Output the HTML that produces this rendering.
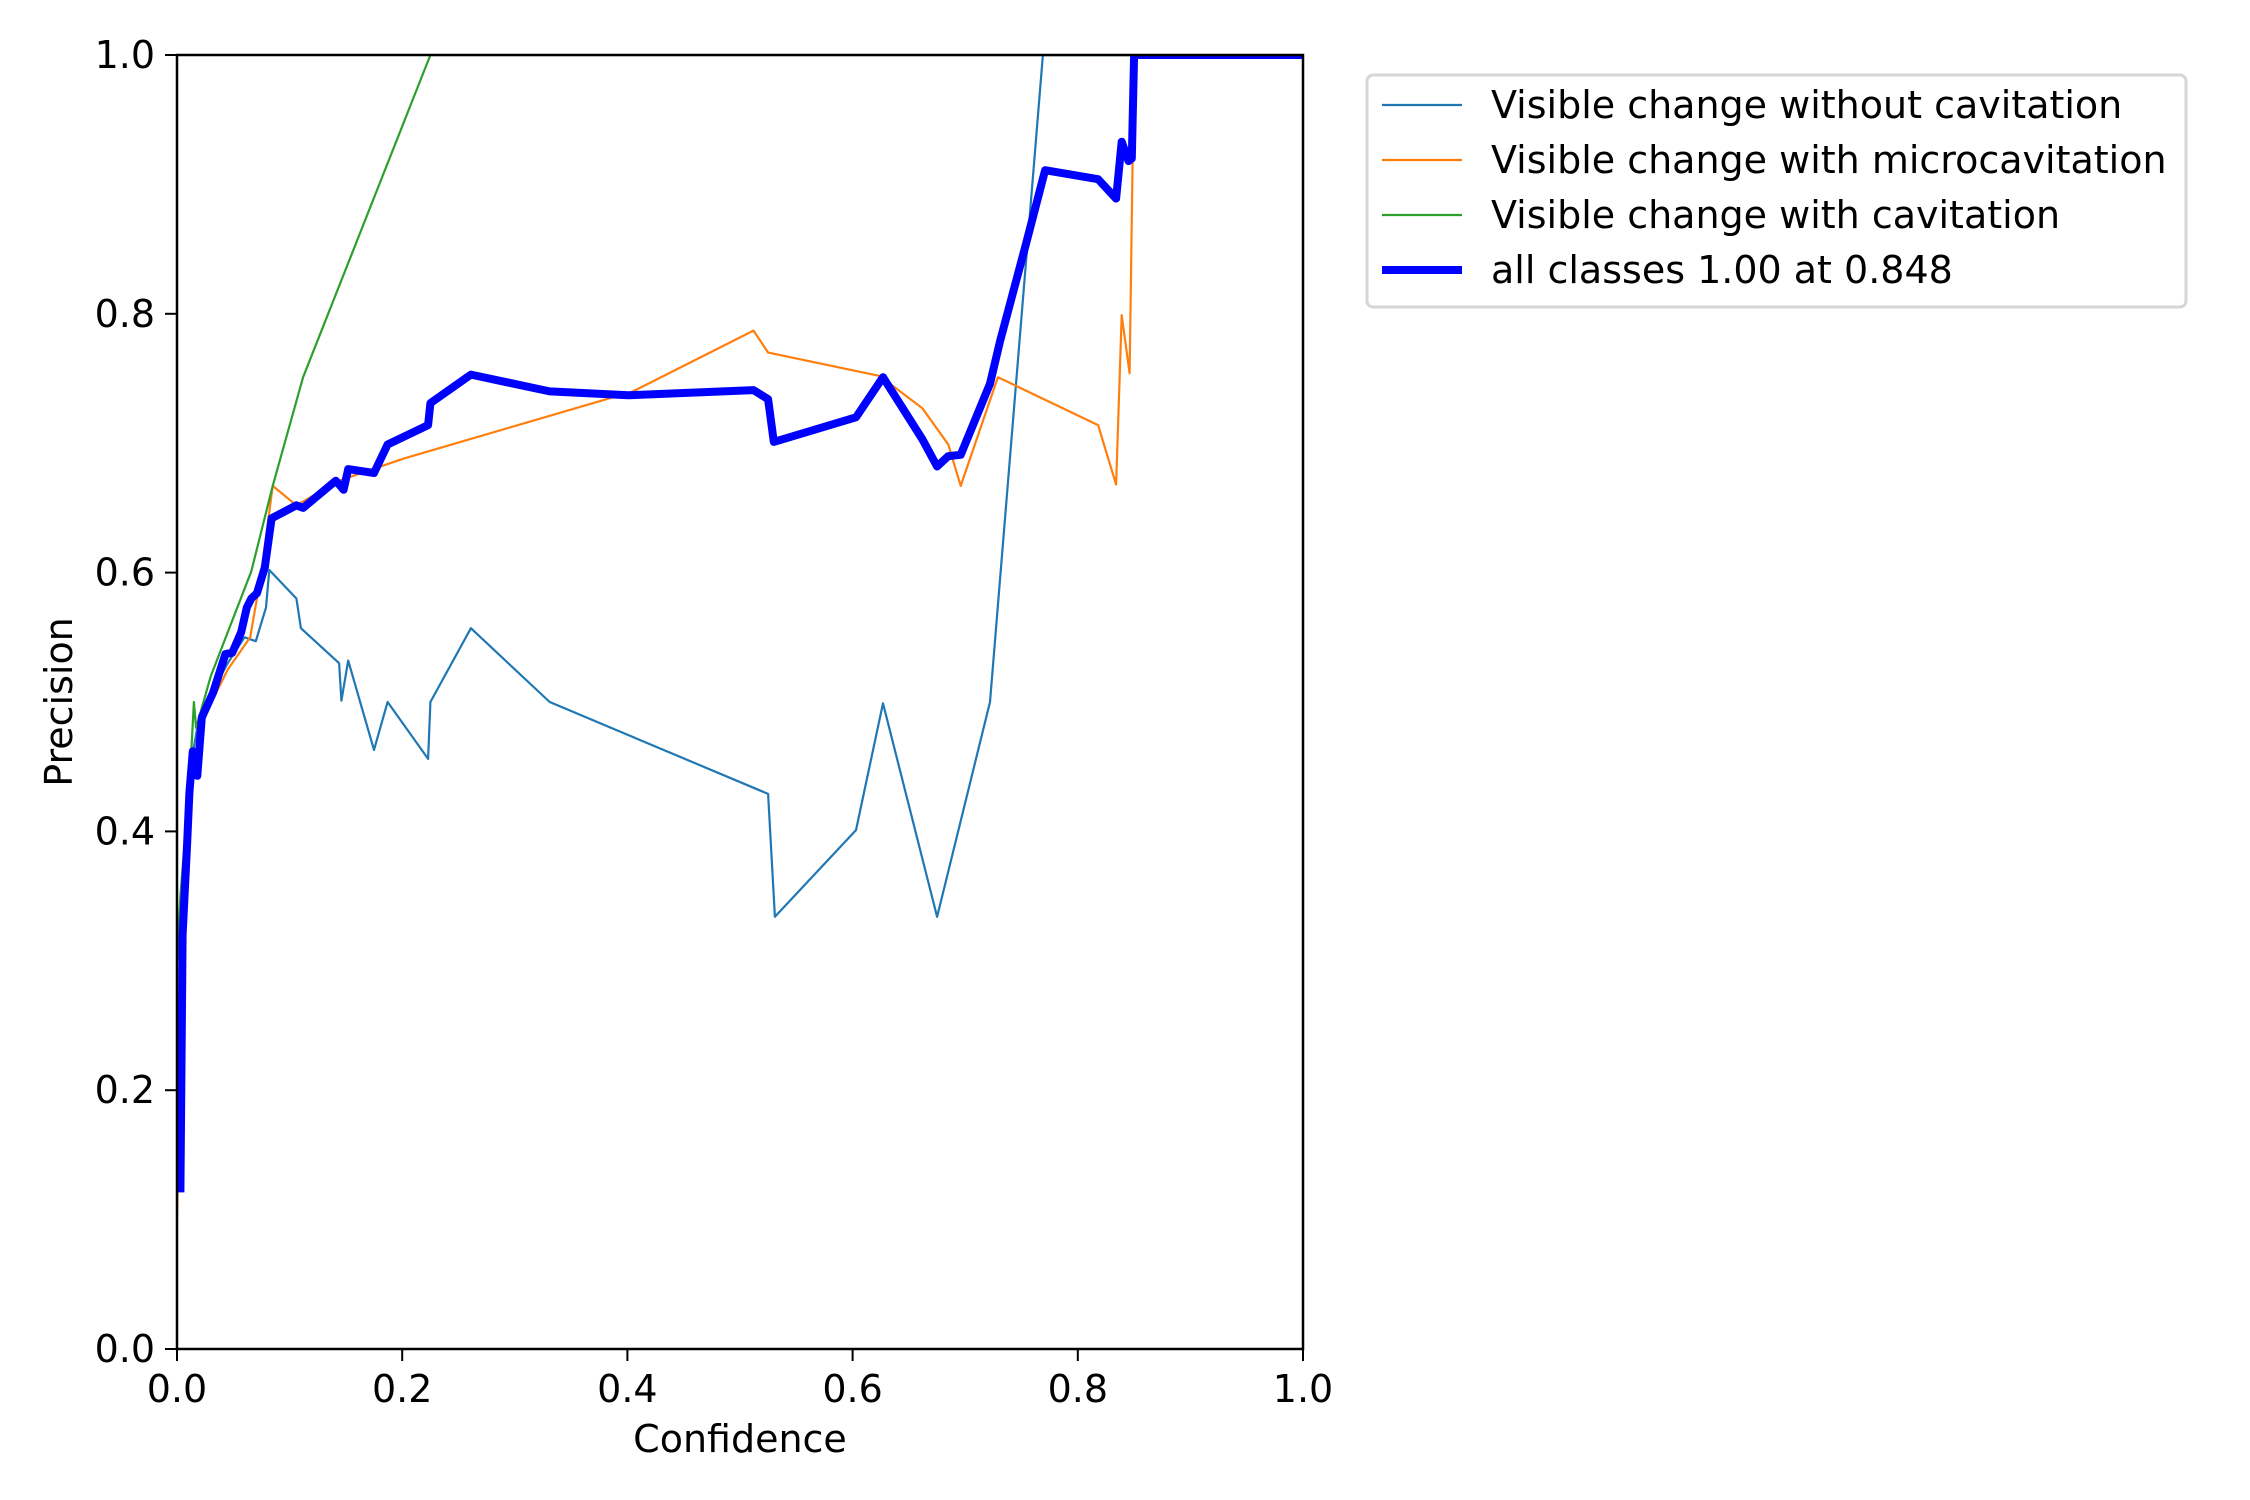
<!DOCTYPE html>
<html><head><meta charset="utf-8"><style>
html,body{margin:0;padding:0;background:#fff;}
svg{display:block;font-family:"DejaVu Sans","Liberation Sans",sans-serif;}
</style></head><body>
<svg id="chart" width="2250" height="1500" viewBox="0 0 2250 1500" xmlns="http://www.w3.org/2000/svg">
<rect width="2250" height="1500" fill="#fff"/>
<defs><clipPath id="clip"><rect x="177" y="55" width="1126" height="1294"/></clipPath></defs>
<g id="series" clip-path="url(#clip)"></g>
<rect x="177" y="55" width="1126" height="1294" fill="none" stroke="#000" stroke-width="2.5"/>
<g id="axes"></g>
<text x="740" y="1452" font-size="38" text-anchor="middle">Confidence</text>
<text x="72" y="702" font-size="38" text-anchor="middle" transform="rotate(-90 72 702)">Precision</text>
<g>
<rect x="1367" y="75" width="819" height="232" rx="6" fill="#fff" stroke="#d6d6d6" stroke-width="3"/>
<line x1="1382" y1="105" x2="1462" y2="105" stroke="#1f77b4" stroke-width="2.2"/>
<text x="1491" y="118" font-size="38">Visible change without cavitation</text>
<line x1="1382" y1="160" x2="1462" y2="160" stroke="#ff7f0e" stroke-width="2.2"/>
<text x="1491" y="173" font-size="38">Visible change with microcavitation</text>
<line x1="1382" y1="215" x2="1462" y2="215" stroke="#2ca02c" stroke-width="2.2"/>
<text x="1491" y="228" font-size="38">Visible change with cavitation</text>
<line x1="1382" y1="270" x2="1462" y2="270" stroke="#0000ff" stroke-width="8"/>
<text x="1491" y="283" font-size="38">all classes 1.00 at 0.848</text>
</g>
</svg>
<script>
const xTicks = [0.0, 0.2, 0.4, 0.6, 0.8, 1.0];
const yTicks = [0.0, 0.2, 0.4, 0.6, 0.8, 1.0];
const tickLabels = ["0.0","0.2","0.4","0.6","0.8","1.0"];
const noCavX = [0,0.003,0.012,0.02,0.045,0.06,0.07,0.079,0.082,0.106,0.11,0.144,0.146,0.152,0.175,0.187,0.223,0.225,0.261,0.331,0.525,0.531,0.603,0.627,0.675,0.722,0.769,1.0];
const noCavY = [0.3,0.33,0.45,0.49,0.53,0.55,0.547,0.573,0.602,0.58,0.557,0.53,0.501,0.532,0.463,0.5,0.456,0.5,0.557,0.5,0.429,0.334,0.401,0.499,0.334,0.5,1.0,1.0];
const microX = [0,0.005,0.015,0.025,0.045,0.065,0.075,0.085,0.106,0.144,0.201,0.405,0.512,0.525,0.624,0.662,0.685,0.696,0.729,0.818,0.834,0.839,0.846,0.85,1.0];
const microY = [0.1,0.35,0.45,0.49,0.525,0.55,0.6,0.667,0.652,0.671,0.688,0.74,0.787,0.77,0.752,0.727,0.699,0.667,0.751,0.714,0.668,0.799,0.754,1.0,1.0];
const cavX = [0,0.003,0.012,0.015,0.017,0.03,0.066,0.085,0.112,0.225,1.0];
const cavY = [0.3,0.35,0.45,0.5,0.48,0.52,0.601,0.667,0.751,1.0,1.0];
const allX = [0.003,0.005,0.009,0.011,0.014,0.018,0.022,0.032,0.043,0.049,0.057,0.062,0.066,0.071,0.078,0.084,0.106,0.112,0.141,0.148,0.152,0.175,0.187,0.223,0.225,0.261,0.331,0.401,0.512,0.525,0.53,0.603,0.627,0.662,0.675,0.685,0.696,0.722,0.731,0.754,0.771,0.818,0.834,0.839,0.845,0.848,0.85,1.0];
const allY = [0.121,0.32,0.39,0.43,0.462,0.443,0.488,0.507,0.537,0.538,0.554,0.573,0.58,0.584,0.604,0.642,0.652,0.65,0.671,0.664,0.68,0.677,0.699,0.714,0.731,0.753,0.74,0.737,0.741,0.734,0.701,0.72,0.751,0.703,0.682,0.69,0.691,0.746,0.779,0.854,0.911,0.904,0.889,0.933,0.918,0.92,1.0,1.0];

const L=177,R=1303,T=55,B=1349;
const sx=v=>L+v*(R-L);
const sy=v=>B-v*(B-T);
const NS="http://www.w3.org/2000/svg";
const series=document.getElementById('series');
const axes=document.getElementById('axes');
function addLine(xs,ys,color,w,name){
  const p=document.createElementNS(NS,'polyline');
  p.setAttribute('points',xs.map((x,i)=>sx(x).toFixed(1)+','+sy(ys[i]).toFixed(1)).join(' '));
  p.setAttribute('fill','none');p.setAttribute('stroke',color);p.setAttribute('stroke-width',w);
  p.setAttribute('stroke-linejoin','round');
  
  
  series.appendChild(p);
}
addLine(noCavX,noCavY,'#1f77b4',2.2,'line-without-cavitation');
addLine(microX,microY,'#ff7f0e',2.2,'line-microcavitation');
addLine(cavX,cavY,'#2ca02c',2.2,'line-cavitation');
addLine(allX,allY,'#0000ff',8,'line-all-classes');
xTicks.forEach((v,i)=>{
  const t=document.createElementNS(NS,'line');
  t.setAttribute('x1',sx(v));t.setAttribute('x2',sx(v));t.setAttribute('y1',B);t.setAttribute('y2',B+12);
  t.setAttribute('stroke','#000');t.setAttribute('stroke-width',2);
  
  
  axes.appendChild(t);
  const s=document.createElementNS(NS,'text');
  s.setAttribute('x',sx(v));s.setAttribute('y',B+53);s.setAttribute('font-size','38');s.setAttribute('text-anchor','middle');
  s.textContent=tickLabels[i];
  
  
  axes.appendChild(s);
});
yTicks.forEach((v,i)=>{
  const t=document.createElementNS(NS,'line');
  t.setAttribute('x1',L-12);t.setAttribute('x2',L);t.setAttribute('y1',sy(v));t.setAttribute('y2',sy(v));
  t.setAttribute('stroke','#000');t.setAttribute('stroke-width',2);
  
  
  axes.appendChild(t);
  const s=document.createElementNS(NS,'text');
  s.setAttribute('x',L-22);s.setAttribute('y',sy(v)+13);s.setAttribute('font-size','38');s.setAttribute('text-anchor','end');
  s.textContent=tickLabels[i];
  
  
  axes.appendChild(s);
});
</script>
</body></html>
